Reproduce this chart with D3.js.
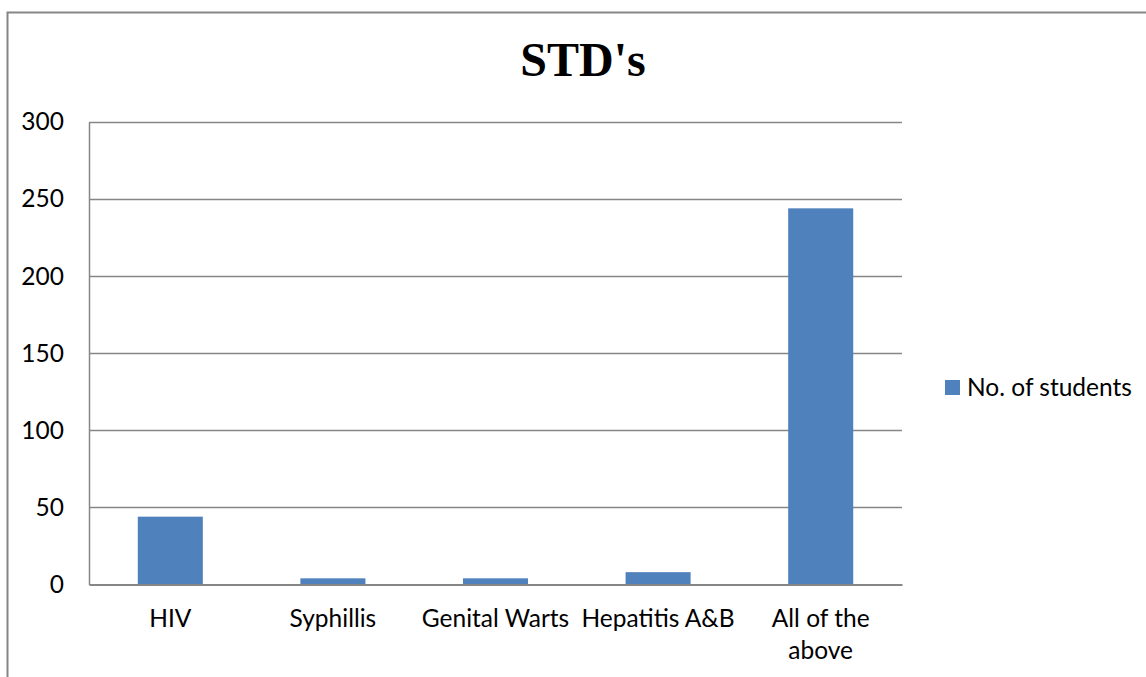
<!DOCTYPE html>
<html>
<head>
<meta charset="utf-8">
<script src="https://cdn.jsdelivr.net/npm/d3@7"></script>
<style>
  html, body { margin: 0; padding: 0; background: #fff; }
  svg { display: block; }
</style>
</head>
<body>
<svg id="chart" width="1146" height="677"></svg>
<script>
// Survey: which STDs students know about
const categories = ["HIV", "Syphillis", "Genital Warts", "Hepatitis A&B", "All of the above"];
const students = [44, 4, 4, 8, 244];
const yTicks = [0, 50, 100, 150, 200, 250, 300];
const seriesName = "No. of students";
const chartTitle = "STD's";

const svg = d3.select("#chart");
const W = 1146, H = 677;
const plot = { left: 89, right: 902, top: 122, bottom: 584.5 };
const gridColor = "#868686";
const barColor = "#4F81BD";
const font = "Lato, 'Open Sans', sans-serif";
const fontSize = 24.5;

// Outer chart frame
svg.append("rect")
  .attr("x", 7.5).attr("y", 12.5)
  .attr("width", W + 20).attr("height", H + 20)
  .attr("fill", "#fff")
  .attr("stroke", gridColor).attr("stroke-width", 2);

const x = d3.scaleBand().domain(categories).range([plot.left, plot.right]).padding(0);
const y = d3.scaleLinear().domain([0, 300]).range([plot.bottom, plot.top]);

// Horizontal gridlines
svg.append("g").selectAll("line")
  .data(yTicks.filter(t => t > 0))
  .join("line")
  .attr("x1", plot.left).attr("x2", plot.right)
  .attr("y1", d => Math.round(y(d)) + 0.5).attr("y2", d => Math.round(y(d)) + 0.5)
  .attr("stroke", gridColor).attr("stroke-width", 1.4);

// Value axis
const yAxis = svg.append("g")
  .attr("transform", `translate(${plot.left},0)`)
  .call(d3.axisLeft(y).tickValues(yTicks).tickSize(0).tickPadding(25));
yAxis.select(".domain").attr("stroke", gridColor).attr("stroke-width", 1.5);
yAxis.selectAll("text")
  .attr("font-family", font).attr("font-size", fontSize).attr("fill", "#000");

// Bars
const barW = x.bandwidth() * 0.4;
svg.append("g").selectAll("rect")
  .data(categories.map((c, i) => ({ c, v: students[i] })))
  .join("rect")
  .attr("x", d => x(d.c) + (x.bandwidth() - barW) / 2)
  .attr("width", barW)
  .attr("y", d => y(d.v))
  .attr("height", d => y(0) - y(d.v))
  .attr("fill", barColor);

// Category axis
const xAxis = svg.append("g")
  .attr("transform", `translate(0,${plot.bottom})`)
  .call(d3.axisBottom(x).tickSize(0).tickPadding(0));
xAxis.select(".domain").attr("stroke", gridColor).attr("stroke-width", 2);
xAxis.selectAll("text").remove();

// Category labels, wrapped to the band width
const labelG = svg.append("g");
const maxLabelW = x.bandwidth() - 8;
categories.forEach(c => {
  const cx = x(c) + x.bandwidth() / 2;
  const t = labelG.append("text")
    .attr("x", cx).attr("y", 627)
    .attr("text-anchor", "middle")
    .attr("font-family", font).attr("font-size", fontSize).attr("fill", "#000");
  const words = c.split(" ");
  let line = [];
  let tspan = t.append("tspan").attr("x", cx).attr("dy", 0);
  words.forEach(w => {
    line.push(w);
    tspan.text(line.join(" "));
    if (tspan.node().getComputedTextLength() > maxLabelW && line.length > 1) {
      line.pop();
      tspan.text(line.join(" "));
      line = [w];
      tspan = t.append("tspan").attr("x", cx).attr("dy", 32).text(w);
    }
  });
});

// Title
svg.append("text")
  .attr("x", 583).attr("y", 76)
  .attr("text-anchor", "middle")
  .attr("font-family", "'Liberation Serif', 'Times New Roman', serif")
  .attr("font-weight", "bold").attr("font-size", 48)
  .attr("fill", "#000")
  .text(chartTitle);

// Legend
const legend = svg.append("g").attr("transform", "translate(945,380)");
legend.append("rect").attr("width", 15).attr("height", 15).attr("fill", barColor);
legend.append("text")
  .attr("x", 22).attr("y", 15.5)
  .attr("font-family", font).attr("font-size", fontSize).attr("fill", "#000")
  .text(seriesName);
</script>
</body>
</html>
